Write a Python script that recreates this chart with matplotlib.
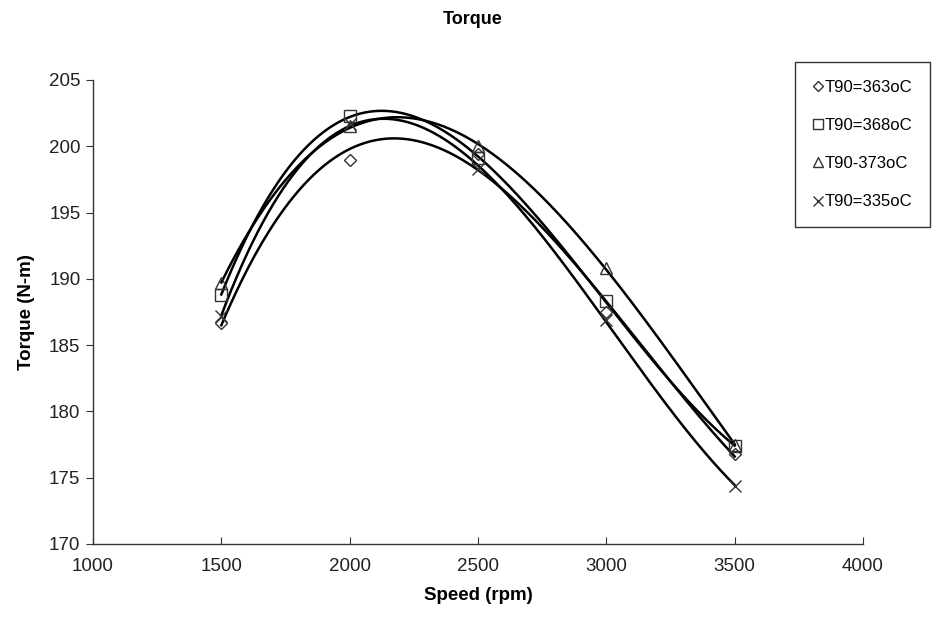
import numpy as np
import matplotlib
matplotlib.use("Agg")
import matplotlib.pyplot as plt

plt.rcParams['font.family'] = ['Liberation Sans', 'DejaVu Sans']

speed = [1500, 2000, 2500, 3000, 3500]
t363 = [186.7, 199.0, 199.4, 187.5, 176.8]
t368 = [188.8, 202.3, 199.1, 188.3, 177.4]
t373 = [189.7, 201.5, 200.0, 190.8, 177.5]
t335 = [187.2, 201.7, 198.3, 186.9, 174.4]

labels = ["T90=363oC", "T90=368oC", "T90-373oC", "T90=335oC"]
markers = ["D", "s", "^", "x"]
msizes = [6.5, 9, 9, 8]
data = [t363, t368, t373, t335]

fig = plt.figure(figsize=(9.43, 6.18), dpi=100)
ax = fig.add_axes([93/943, 1-544/618, (863-93)/943, (544-80)/618])

xs = np.linspace(1500, 3500, 300)
handles = []
for vals, name, m, ms in zip(data, labels, markers, msizes):
    coef = np.polyfit(speed, vals, 3)
    ax.plot(xs, np.polyval(coef, xs), color='black', lw=1.8, zorder=2)
    h, = ax.plot(speed, vals, linestyle='none', marker=m, ms=ms,
                 mfc='none', mec='#333333', mew=1.0, zorder=3, label=name)
    handles.append(h)

ax.set_xlim(1000, 4000)
ax.set_ylim(170, 205)
ax.set_xticks([1000, 1500, 2000, 2500, 3000, 3500, 4000])
ax.set_yticks([170, 175, 180, 185, 190, 195, 200, 205])
for s in ['top', 'right']:
    ax.spines[s].set_visible(False)
for s in ['left', 'bottom']:
    ax.spines[s].set_color('#333333')
    ax.spines[s].set_linewidth(1.0)
ax.tick_params(axis='x', direction='in', length=5, labelsize=13.5, pad=10,
               colors='#333333', labelcolor='#222222')
ax.tick_params(axis='y', direction='out', length=5, labelsize=13.5, pad=4,
               colors='#333333', labelcolor='#222222')

ax.set_xlabel("Speed (rpm)", fontsize=13.5, fontweight='bold', labelpad=9)
ax.set_ylabel("Torque (N-m)", fontsize=13.5, fontweight='bold', labelpad=10)
fig.text(473/943, 1-20/618, "Torque", ha='center', va='center',
         fontsize=13, fontweight='bold')

leg = fig.legend(handles=handles, loc='upper left',
                 bbox_to_anchor=(795/943, 1-62/618), frameon=True,
                 fancybox=False, edgecolor='black', fontsize=12,
                 labelspacing=1.4, handlelength=0.6, handletextpad=0.15,
                 borderpad=1.05, borderaxespad=0, markerscale=0.85)
leg.get_frame().set_linewidth(1.0)

fig.savefig("out.png", dpi=100)
